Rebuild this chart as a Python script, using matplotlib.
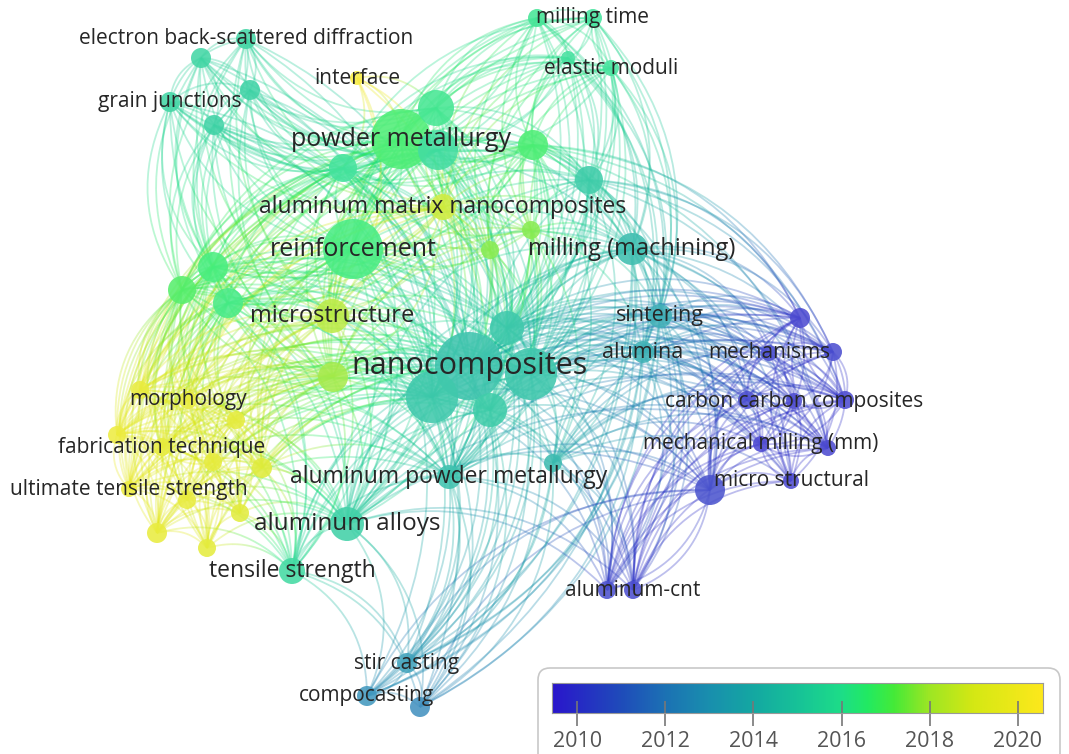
import numpy as np
import matplotlib.pyplot as plt
from matplotlib.colors import LinearSegmentedColormap
from matplotlib.collections import LineCollection
from matplotlib.patches import Circle, FancyBboxPatch

plt.rcParams['font.family'] = ['Open Sans', 'DejaVu Sans']

# keyword map: position on the map (px), node radius, average publication year
LABELS = [
    "electron back-scattered diffraction", "", "", "grain junctions", "",
    "interface", "", "milling time", "", "elastic moduli",
    "powder metallurgy", "", "", "", "", "",
    "aluminum matrix nanocomposites", "reinforcement", "", "", "milling (machining)",
    "", "", "", "microstructure", "",
    "nanocomposites", "", "", "", "",
    "sintering", "alumina", "", "", "mechanisms",
    "carbon carbon composites", "", "", "mechanical milling (mm)", "",
    "micro structural", "", "", "aluminum-cnt",
    "aluminum powder metallurgy", "", "aluminum alloys", "tensile strength",
    "stir casting", "compocasting", "",
    "", "", "", "fabrication technique", "", "", "ultimate tensile strength",
    "", "", "", "", "morphology",
]
NODE_X = [246, 201, 250, 170, 214,
          357, 537, 593, 568, 611,
          401, 436, 438, 343, 533, 589,
          443, 353, 531, 490, 632,
          213, 182, 228, 332, 333,
          469, 432, 531, 507, 490,
          660, 643, 800, 833, 769,
          794, 747, 845, 761, 828,
          791, 710, 607, 633,
          449, 553, 347, 292,
          407, 367, 420,
          140, 236, 117, 162, 213, 262, 129,
          187, 240, 157, 207, 188]
NODE_Y = [39, 58, 90, 102, 125,
          78, 18, 18, 58, 68,
          139, 108, 150, 168, 145, 180,
          207, 249, 230, 250, 249,
          267, 290, 303, 316, 377,
          366, 397, 374, 328, 410,
          316, 352, 318, 352, 353,
          401, 400, 400, 444, 448,
          481, 490, 590, 590,
          477, 463, 524, 571,
          663, 696, 707,
          390, 420, 435, 447, 462, 468, 489,
          500, 513, 533, 548, 400]
NODE_R = [10, 10, 10, 10, 10,
          7, 9, 9, 7, 8,
          30, 18, 20, 14, 15, 14,
          13, 30, 9, 9, 16,
          15, 14, 15, 17, 15,
          34, 26, 26, 17, 17,
          12, 11, 10, 9, 8,
          8, 9, 9, 8, 8,
          8, 15, 9, 9,
          12, 9, 17, 13,
          10, 10, 10,
          9, 9, 9, 9, 9, 10, 8,
          9, 9, 10, 9, 9]
NODE_YEAR = [2015.4, 2015.4, 2015.3, 2015.4, 2015.3,
             2020.3, 2016.1, 2016.0, 2015.9, 2016.0,
             2016.7, 2016.2, 2015.7, 2016.0, 2016.7, 2015.0,
             2018.7, 2016.5, 2017.6, 2017.6, 2014.3,
             2016.6, 2016.9, 2016.4, 2018.3, 2017.9,
             2014.6, 2014.8, 2014.7, 2014.8, 2015.0,
             2013.6, 2013.7, 2009.9, 2010.0, 2010.0,
             2009.9, 2010.0, 2009.9, 2009.8, 2009.9,
             2009.9, 2010.2, 2010.1, 2010.0,
             2014.5, 2014.2, 2015.2, 2015.6,
             2013.0, 2012.6, 2012.3,
             2019.6, 2019.4, 2019.8, 2019.5, 2019.5, 2019.2, 2019.8,
             2019.6, 2019.3, 2019.6, 2019.4, 2019.6]

# co-occurrence links: groups of keywords that all link to each other
LINK_GROUPS = [
    [0, 1, 2, 3, 4, 10, 11, 12, 13, 17, 21, 22, 24, 26],
    [6, 7, 8, 9, 10, 11, 12, 14, 15, 17, 20, 26, 28],
    [10, 11, 12, 13, 14, 15, 16, 17, 18, 19, 20, 24, 25, 26, 27, 28, 29, 30, 45, 47],
    [10, 13, 17, 21, 22, 23, 24, 25, 26, 27],
    [17, 23, 24, 25, 26, 27, 47, 48, 52, 53, 54, 55, 56, 57, 58, 59, 60, 61, 62, 63],
    [20, 26, 28, 29, 31, 32, 33, 34, 35, 36, 37, 38, 39, 40, 41, 42, 43, 44, 46],
    [17, 20, 26, 27, 28, 30, 45, 47, 48, 49, 50, 51],
    [14, 15, 18, 20, 26, 28, 29, 30, 31, 32, 45, 46],
]
# extra links between groups: (from keywords, to keywords)
LINK_BRIDGES = [
    ([0, 1, 2, 3, 4], [14, 16, 23, 25, 27]),
    ([6, 7, 8, 9], [13, 16, 18, 19, 20, 24, 29, 31, 32]),
    ([5], [10, 11, 13, 16, 17, 24, 26]),
    ([49, 50, 51], [20, 29, 31, 32, 42, 46]),
    ([43, 44], [20, 26, 27, 28, 30, 31, 45, 47]),
    ([52, 54, 55, 57, 58, 61, 63], [10, 12, 13, 16, 28, 30, 45]),
    ([21, 22, 23], [52, 53, 54, 55, 56, 57, 58, 59, 60, 61, 62, 63]),
    ([21, 22, 23], [12, 14, 16, 28, 29, 30, 45, 47, 48]),
    ([33, 34, 38, 40, 42], [15, 14, 30, 45, 47, 27]),
]

YEAR_TICKS = [2010, 2012, 2014, 2016, 2018, 2020]
YEAR_MIN, YEAR_MAX = 2009.43, 2020.57

stops = [(2009.43, '#2a16cc'), (2011.0, '#1f4cba'), (2012.0, '#1c72b4'),
         (2013.0, '#198fae'), (2014.0, '#14a8a2'), (2015.0, '#17c298'),
         (2016.0, '#1ddd88'), (2016.6, '#22ea62'), (2017.2, '#45ea38'),
         (2018.0, '#9de624'), (2019.0, '#d4e814'), (2020.57, '#fde81c')]
cmap = LinearSegmentedColormap.from_list(
    'vos', [((y - YEAR_MIN) / (YEAR_MAX - YEAR_MIN), c) for y, c in stops])


def year_color(y, alpha=1.0, light=0.0):
    c = np.array(cmap((y - YEAR_MIN) / (YEAR_MAX - YEAR_MIN)))
    c[:3] = c[:3] * (1 - light) + light
    c[3] = alpha
    return c


# collect unique links
links = set()
for g in LINK_GROUPS:
    for i in range(len(g)):
        for j in range(i + 1, len(g)):
            links.add(tuple(sorted((g[i], g[j]))))
for a_list, b_list in LINK_BRIDGES:
    for a in a_list:
        for b in b_list:
            if a != b:
                links.add(tuple(sorted((a, b))))

fig = plt.figure(figsize=(10.69, 7.54), dpi=100)
ax = fig.add_axes([0, 0, 1, 1])
ax.set_xlim(0, 1069)
ax.set_ylim(754, 0)
ax.axis('off')

# curved links, coloured along their length
segs, cols = [], []
t = np.linspace(0, 1, 20)
for a, b in sorted(links):
    # older keyword first, curve bends to the right of travel
    if NODE_YEAR[a] > NODE_YEAR[b]:
        a, b = b, a
    p0 = np.array([NODE_X[a], NODE_Y[a]], float)
    p2 = np.array([NODE_X[b], NODE_Y[b]], float)
    d = p2 - p0
    ctrl = (p0 + p2) / 2 + 0.3 * np.array([-d[1], d[0]])
    pts = ((1 - t) ** 2)[:, None] * p0 + (2 * (1 - t) * t)[:, None] * ctrl + (t ** 2)[:, None] * p2
    yrs = NODE_YEAR[a] + (NODE_YEAR[b] - NODE_YEAR[a]) * t
    for k in range(len(t) - 1):
        segs.append(pts[k:k + 2])
        cols.append(year_color((yrs[k] + yrs[k + 1]) / 2, 0.3))
ax.add_collection(LineCollection(segs, colors=cols, linewidths=1.3, capstyle='butt', zorder=1))

# nodes
order = np.argsort(NODE_R)[::-1]
for i in order:
    ax.add_patch(Circle((NODE_X[i], NODE_Y[i]), NODE_R[i],
                        facecolor=year_color(NODE_YEAR[i], 0.88, 0.18),
                        edgecolor='none', zorder=2))

# labels
SIZES = {"nanocomposites": 22, "powder metallurgy": 18, "reinforcement": 18,
         "microstructure": 17, "milling (machining)": 17, "aluminum alloys": 17.5,
         "aluminum matrix nanocomposites": 16.5, "aluminum powder metallurgy": 16.5,
         "tensile strength": 16.5, "sintering": 15.5, "alumina": 15.5}
for i, lab in enumerate(LABELS):
    if lab:
        ax.text(NODE_X[i], NODE_Y[i], lab, fontsize=SIZES.get(lab, 15), color='#262626',
                ha='center', va='center', zorder=3)

# legend box with colour scale
box = FancyBboxPatch((538, 668), 522, 100, boxstyle='round,pad=0,rounding_size=12',
                     facecolor='white', edgecolor='#c8c8c8', linewidth=1.2, zorder=4)
ax.add_patch(box)
cax = fig.add_axes([552 / 1069, 1 - 713 / 754, 491 / 1069, 30 / 754])
grad = np.linspace(YEAR_MIN, YEAR_MAX, 512)[None, :]
cax.imshow(grad, cmap=cmap, vmin=YEAR_MIN, vmax=YEAR_MAX, aspect='auto',
           extent=[YEAR_MIN, YEAR_MAX, 0, 1])
cax.set_xticks(YEAR_TICKS)
cax.set_xticklabels([str(y) for y in YEAR_TICKS], fontsize=15.5, color='#555555')
cax.set_yticks([])
cax.tick_params(axis='x', direction='inout', length=18, width=1.2, color='#777777', pad=4)
for s in cax.spines.values():
    s.set_edgecolor('#999999')
    s.set_linewidth(0.8)

fig.savefig('out.png', dpi=100)
